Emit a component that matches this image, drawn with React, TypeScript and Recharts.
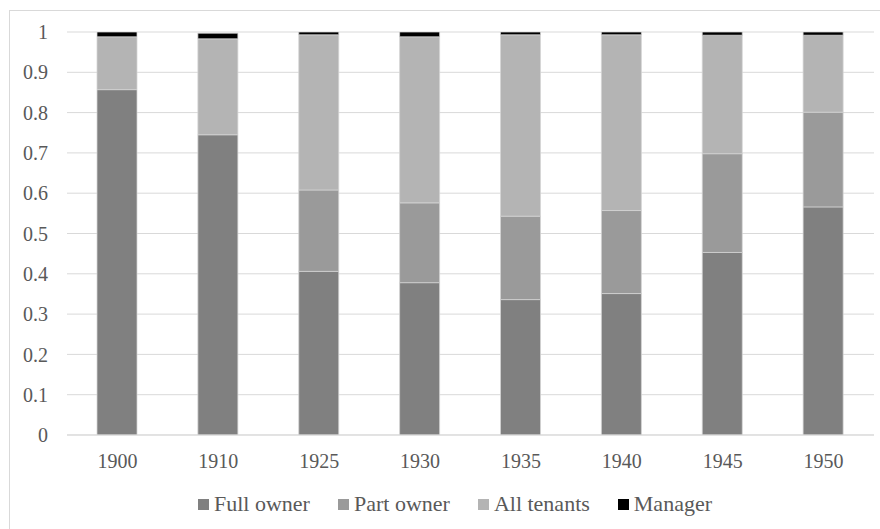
import { BarChart, Bar, XAxis, YAxis, CartesianGrid, Legend } from 'recharts';

const years = ['1900', '1910', '1925', '1930', '1935', '1940', '1945', '1950'];
const fullOwner = [0.857, 0.745, 0.406, 0.378, 0.336, 0.351, 0.453, 0.566];
const partOwner = [0, 0, 0.202, 0.198, 0.207, 0.206, 0.245, 0.235];
const allTenants = [0.131, 0.238, 0.385, 0.412, 0.45, 0.436, 0.294, 0.191];
const manager = [0.013, 0.014, 0.01, 0.013, 0.01, 0.01, 0.01, 0.01];
const yTicks = [0, 0.1, 0.2, 0.3, 0.4, 0.5, 0.6, 0.7, 0.8, 0.9, 1];

const series = [
    { key: 'full', name: 'Full owner', color: '#808080' },
    { key: 'part', name: 'Part owner', color: '#9a9a9a' },
    { key: 'tenants', name: 'All tenants', color: '#b4b4b4' },
    { key: 'manager', name: 'Manager', color: '#000000' },
];

const data = years.map((year, i) => ({
    year,
    full: fullOwner[i],
    part: partOwner[i],
    tenants: allTenants[i],
    manager: manager[i],
}));

const font = 'Liberation Serif, Times New Roman, Times, serif';
const textColor = '#595959';

// legend drawn as one centred row of square swatches
const LegendRow = () => (
    <div style={{ display: 'flex', justifyContent: 'center', alignItems: 'center', gap: 28, paddingLeft: 30, fontFamily: font, fontSize: 22, color: textColor }}>
        {series.map((s) => (
            <div key={s.key} style={{ display: 'flex', alignItems: 'center' }}>
                <span style={{ width: 11, height: 11, background: s.color, marginRight: 5, display: 'inline-block' }} />
                <span>{s.name}</span>
            </div>
        ))}
    </div>
);

export default function App() {
    return (
        <div style={{ position: 'absolute', left: 0, top: 0, width: 880, height: 529, background: '#fff', fontFamily: font }}>
            <div style={{ position: 'absolute', left: 9, top: 10, right: 0, bottom: 0, borderLeft: '1px solid #d9d9d9', borderTop: '1px solid #d9d9d9' }} />
            <BarChart
                width={880}
                height={529}
                data={data}
                barSize={40}
                margin={{ top: 32, right: 6, bottom: 64, left: 0 }}
                style={{ position: 'absolute', left: 0, top: 0, fontFamily: font }}
            >
                <CartesianGrid vertical={false} stroke="#d9d9d9" strokeWidth={1} />
                <XAxis
                    dataKey="year"
                    height={30}
                    stroke="#d9d9d9"
                    tickLine={false}
                    tickSize={0}
                    tickMargin={19}
                    tick={{ fill: textColor, fontFamily: font, fontSize: 20 }}
                />
                <YAxis
                    width={67}
                    domain={[0, 1]}
                    allowDataOverflow
                    ticks={yTicks}
                    axisLine={false}
                    tickLine={false}
                    tickSize={0}
                    tickMargin={19}
                    tick={{ fill: textColor, fontFamily: font, fontSize: 20 }}
                />
                <Legend
                    verticalAlign="middle"
                    layout="horizontal"
                    align="center"
                    wrapperStyle={{ top: 491, left: 0, width: 880 }}
                    content={() => <LegendRow />}
                />
                {series.map((s) => (
                    <Bar
                        key={s.key}
                        dataKey={s.key}
                        name={s.name}
                        stackId="a"
                        fill={s.color}
                        stroke="#d4d4d4"
                        strokeWidth={0.75}
                        isAnimationActive={false}
                    />
                ))}
            </BarChart>
        </div>
    );
}
